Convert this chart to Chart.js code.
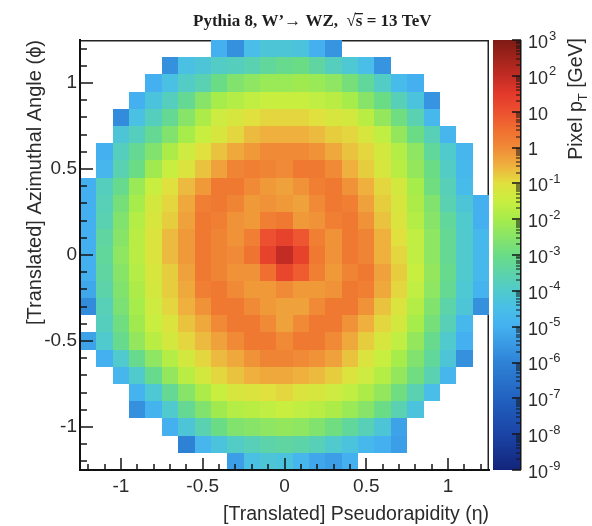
<!DOCTYPE html>
<html>
<head>
<meta charset="utf-8">
<title>Pythia 8, W' to WZ jet image</title>
<script src="https://cdn.jsdelivr.net/npm/chart.js@4.4.1/dist/chart.umd.min.js"></script>
<style>
  html, body { margin: 0; padding: 0; background: #fff; }
  #wrap { position: relative; width: 592px; height: 526px; }
</style>
</head>
<body>
<div id="wrap"><canvas id="jetImage" width="592" height="526"></canvas></div>
<script>
// ── Binning (pixel centres, 0.1 wide) ───────────────────────────────────────
const binWidth   = 0.1;
const etaCenters = [-1.2, -1.1, -1.0, -0.9, -0.8, -0.7, -0.6, -0.5, -0.4, -0.3, -0.2, -0.1, 0,
                    0.1, 0.2, 0.3, 0.4, 0.5, 0.6, 0.7, 0.8, 0.9, 1.0, 1.1, 1.2];
const phiCenters = [1.2, 1.1, 1.0, 0.9, 0.8, 0.7, 0.6, 0.5, 0.4, 0.3, 0.2, 0.1, 0,
                    -0.1, -0.2, -0.3, -0.4, -0.5, -0.6, -0.7, -0.8, -0.9, -1.0, -1.1, -1.2];

// ── Pixel pT, as log10(pT / GeV), one row per phi bin (top row first) ───────
const N = null; // empty pixel
const log10PtRows = [
  [N, N, N, N, N, N, N, N, -5.0, -5.7, -4.5, -4.2, -4.2, -4.3, -5.0, -5.6, N, N, N, N, N, N, N, N, N],
  [N, N, N, N, N, -5.7, -4.4, -4.2, -3.9, -3.8, -3.6, -3.3, -3.1, -3.0, -3.4, -3.8, -4.1, -4.5, -5.6, N, N, N, N, N, N],
  [N, N, N, N, -5.0, -4.4, -3.9, -3.6, -3.0, -2.6, -2.4, -2.2, -2.2, -2.1, -2.2, -2.4, -2.8, -3.3, -3.9, -4.6, -5.0, N, N, N, N],
  [N, N, N, -5.0, -4.3, -3.8, -3.2, -2.5, -2.0, -1.8, -1.6, -1.5, -1.5, -1.5, -1.6, -1.7, -2.0, -2.5, -3.0, -3.7, -4.3, -5.6, N, N, N],
  [N, N, -5.8, -4.4, -3.8, -3.2, -2.5, -1.9, -1.4, -1.2, -1.0, -0.9, -0.9, -0.9, -1.0, -1.2, -1.3, -1.7, -2.3, -2.9, -3.6, -4.7, N, N, N],
  [N, N, -4.2, -3.8, -3.2, -2.6, -2.0, -1.5, -1.2, -0.9, -0.6, -0.5, -0.5, -0.5, -0.6, -0.8, -0.9, -1.2, -1.6, -2.3, -3.0, -3.7, -4.8, N, N],
  [N, -5.0, -3.8, -3.2, -2.6, -1.9, -1.4, -1.0, -0.7, -0.4, -0.2, 0.0, 0.0, 0.0, -0.1, -0.4, -0.7, -0.9, -1.3, -1.8, -2.4, -3.3, -4.0, -4.8, N],
  [N, -4.8, -3.6, -3.0, -2.1, -1.5, -1.1, -0.7, -0.3, 0.1, 0.2, 0.1, 0.0, 0.3, 0.3, 0.0, -0.5, -0.8, -1.2, -1.7, -2.3, -3.0, -3.9, -4.7, N],
  [-5.0, -3.8, -3.1, -2.2, -1.5, -1.0, -0.6, -0.2, 0.3, 0.3, 0.0, -0.2, -0.3, -0.1, 0.2, 0.3, -0.1, -0.5, -0.9, -1.3, -2.0, -2.9, -3.7, -4.6, N],
  [-5.0, -3.7, -2.8, -2.0, -1.3, -0.9, -0.4, 0.2, 0.3, 0.1, -0.2, -0.1, -0.2, -0.3, 0.0, 0.3, 0.2, -0.3, -0.8, -1.2, -1.9, -2.6, -3.6, -4.2, -5.0],
  [-5.0, -3.6, -2.6, -1.8, -1.2, -0.8, -0.3, 0.3, 0.2, -0.1, -0.2, 0.2, 0.3, -0.2, -0.1, 0.2, 0.3, -0.1, -0.7, -1.1, -1.8, -2.5, -3.3, -4.0, -5.0],
  [-5.0, -3.4, -2.5, -1.7, -1.1, -0.6, -0.2, 0.3, 0.1, -0.1, 0.2, 1.0, 1.3, 0.9, 0.2, -0.1, 0.3, 0.1, -0.5, -1.0, -1.6, -2.4, -3.2, -4.0, -4.7],
  [-5.0, -3.3, -2.4, -1.7, -1.1, -0.6, -0.2, 0.3, 0.1, 0.0, 0.4, 1.3, 2.0, 1.3, 0.3, -0.1, 0.3, 0.1, -0.5, -0.9, -1.6, -2.4, -3.2, -4.0, -4.7],
  [-5.0, -3.4, -2.5, -1.8, -1.2, -0.8, -0.3, 0.3, 0.1, -0.1, -0.1, 0.5, 1.2, 0.8, 0.2, -0.2, 0.1, 0.3, -0.3, -0.8, -1.5, -2.3, -3.1, -4.0, -4.7],
  [-5.2, -3.5, -2.6, -1.9, -1.3, -0.8, -0.4, 0.2, 0.3, 0.0, -0.2, -0.2, 0.0, -0.2, -0.2, -0.1, 0.3, 0.2, -0.4, -0.9, -1.6, -2.4, -3.2, -4.1, -4.9],
  [-5.8, -3.7, -2.7, -2.0, -1.4, -0.9, -0.5, -0.1, 0.3, 0.3, 0.0, -0.2, -0.3, -0.3, 0.0, 0.3, 0.3, -0.1, -0.7, -1.1, -1.8, -2.6, -3.5, -4.2, -5.7],
  [N, -3.8, -2.9, -2.1, -1.5, -1.1, -0.7, -0.4, 0.0, 0.3, 0.3, 0.0, -0.3, 0.0, 0.3, 0.3, -0.1, -0.5, -0.9, -1.3, -2.0, -2.8, -3.7, -4.7, N],
  [-5.3, -4.0, -3.1, -2.3, -1.7, -1.3, -0.9, -0.6, -0.3, 0.0, 0.3, 0.3, 0.0, 0.3, 0.3, 0.0, -0.4, -0.8, -1.2, -1.6, -2.3, -3.1, -4.0, -5.0, N],
  [N, -5.0, -4.0, -3.1, -2.4, -1.8, -1.3, -0.9, -0.6, -0.4, -0.1, 0.1, 0.1, 0.0, -0.1, -0.3, -0.7, -1.1, -1.5, -2.0, -2.6, -3.3, -4.2, -5.7, N],
  [N, N, -4.8, -4.0, -3.1, -2.3, -1.7, -1.3, -0.9, -0.7, -0.5, -0.4, -0.4, -0.5, -0.6, -0.8, -1.1, -1.4, -1.8, -2.3, -2.9, -3.6, -4.8, N, N],
  [N, N, N, -4.9, -4.1, -3.2, -2.5, -1.9, -1.5, -1.2, -1.1, -1.0, -0.9, -1.1, -1.2, -1.4, -1.6, -1.9, -2.3, -2.9, -3.6, -4.5, N, N, N],
  [N, N, N, -5.7, -4.9, -4.0, -3.2, -2.6, -2.1, -1.8, -1.7, -1.6, -1.5, -1.6, -1.7, -1.9, -2.2, -2.5, -3.0, -3.6, -4.3, N, N, N, N],
  [N, N, N, N, N, -5.0, -4.2, -3.6, -3.0, -2.6, -2.5, -2.4, -2.3, -2.4, -2.6, -2.9, -3.3, -3.7, -4.2, -5.3, N, N, N, N, N],
  [N, N, N, N, N, N, -6.0, -4.8, -4.3, -3.9, -3.7, -3.5, -3.4, -3.5, -3.7, -4.0, -4.3, -4.7, -5.0, -5.4, N, N, N, N, N],
  [N, N, N, N, N, N, N, N, N, -5.4, -4.4, -4.2, -4.3, -4.8, -5.2, -5.4, -5.0, N, N, N, N, N, N, N, N],
];

// ── Axes ────────────────────────────────────────────────────────────────────
const xTickValues = [-1, -0.5, 0, 0.5, 1];
const yTickValues = [-1, -0.5, 0, 0.5, 1];
const xAxisTitle  = '[Translated] Pseudorapidity (\u03B7)';
const yAxisTitle  = '[Translated] Azimuthal Angle (\u03D5)';

// ── Colour bar (log10 pT from 1e-9 to 1e3) ──────────────────────────────────
const cbTickValues = [1e3, 1e2, 1e1, 1, 1e-1, 1e-2, 1e-3, 1e-4, 1e-5, 1e-6, 1e-7, 1e-8, 1e-9];
const cbLabelBase  = ['10', '10', '10', '1', '10', '10', '10', '10', '10', '10', '10', '10', '10'];
const cbLabelExp   = ['3', '2', '', '', '-1', '-2', '-3', '-4', '-5', '-6', '-7', '-8', '-9'];
const cbStopExp    = [-9, -8, -7, -6, -5, -4.5, -4, -3, -2, -1.5, -1, -0.5, 0, 0.5, 1, 1.5, 2, 3];
const cbStopColors = ['#13247a', '#1a44a6', '#2262c0', '#2e82d6', '#44b0f0', '#48bee8', '#50cacc',
                      '#6adc86', '#a6ec4a', '#c8ee40', '#e0e03e', '#efb03e', '#f08a36', '#f06e30',
                      '#ec5030', '#e3392a', '#c22c24', '#7e1a14'];

const SANS  = '"Liberation Sans", Arial, Helvetica, sans-serif';
const SERIF = '"Liberation Serif", "Times New Roman", serif';
const TXT   = '#2b2b2b';
const INK   = '#151515';

// ── Helpers ─────────────────────────────────────────────────────────────────
function hexToRgb(h) {
  return [parseInt(h.slice(1, 3), 16), parseInt(h.slice(3, 5), 16), parseInt(h.slice(5, 7), 16)];
}
const cbStopRgb = cbStopColors.map(hexToRgb);

function colorFor(lv) {
  if (lv <= cbStopExp[0]) return cbStopColors[0];
  for (let i = 1; i < cbStopExp.length; i++) {
    if (lv <= cbStopExp[i]) {
      const f = (lv - cbStopExp[i - 1]) / (cbStopExp[i] - cbStopExp[i - 1]);
      const a = cbStopRgb[i - 1], b = cbStopRgb[i];
      const c = a.map((v, k) => Math.round(v + (b[k] - v) * f));
      return `rgb(${c[0]},${c[1]},${c[2]})`;
    }
  }
  return cbStopColors[cbStopColors.length - 1];
}

// flat list of filled pixels for the scatter dataset
const cells = [];
log10PtRows.forEach((row, r) => {
  row.forEach((lv, c) => {
    if (lv !== null) cells.push({ x: etaCenters[c], y: phiCenters[r], v: lv });
  });
});

// ── Plugins ─────────────────────────────────────────────────────────────────
// thin frame on top / right, drawn under the pixels (like ROOT)
const framePlugin = {
  id: 'frame',
  beforeDatasetsDraw(chart) {
    const { ctx, chartArea: a } = chart;
    ctx.save();
    ctx.fillStyle = '#222';
    ctx.fillRect(a.left, a.top, a.right - a.left, 1.5);
    ctx.fillRect(a.right - 1.5, a.top, 1.5, a.bottom - a.top);
    ctx.restore();
  },
};

const heatmapPlugin = {
  id: 'heatmapCells',
  beforeDatasetsDraw(chart) {
    const { ctx, scales: { x, y } } = chart;
    const half = binWidth / 2;
    ctx.save();
    chart.data.datasets[0].data.forEach(p => {
      const l = Math.round(x.getPixelForValue(p.x - half));
      const r = Math.round(x.getPixelForValue(p.x + half));
      const t = Math.round(y.getPixelForValue(p.y + half));
      const b = Math.round(y.getPixelForValue(p.y - half));
      ctx.fillStyle = colorFor(p.v);
      ctx.fillRect(l, t, r - l, b - t);
    });
    ctx.restore();
  },
};

// ROOT style tick marks pointing into the frame, plus colour bar
const overlayPlugin = {
  id: 'overlay',
  afterDraw(chart) {
    const { ctx, chartArea: a, scales: { x, y, pt } } = chart;
    ctx.save();

    // main axes ticks (minor every 0.1 = pixel centres)
    ctx.fillStyle = INK;
    etaCenters.forEach(v => {
      const px = Math.round(x.getPixelForValue(v));
      const len = xTickValues.includes(v) ? 12 : 6;
      ctx.fillRect(px - 0.75, a.bottom - len, 1.5, len);
    });
    phiCenters.forEach(v => {
      const py = Math.round(y.getPixelForValue(v));
      const len = yTickValues.includes(v) ? 13 : 7;
      ctx.fillRect(a.left, py - 0.75, len, 1.5);
    });

    // colour bar
    const x0 = pt.left + 4, x1 = pt.left + 32;
    const top = pt.getPixelForValue(1e3), bot = pt.getPixelForValue(1e-9);
    const g = ctx.createLinearGradient(0, bot, 0, top);
    cbStopExp.forEach((e, i) => {
      const py = pt.getPixelForValue(Math.pow(10, e));
      g.addColorStop((bot - py) / (bot - top), cbStopColors[i]);
    });
    ctx.fillStyle = g;
    ctx.fillRect(x0, top, x1 - x0, bot - top);

    // colour bar axis line + log ticks on its right edge
    ctx.fillStyle = INK;
    ctx.fillRect(x1 - 1, top, 1.5, bot - top);
    cbTickValues.forEach(val => {
      const py = Math.round(pt.getPixelForValue(val));
      ctx.fillRect(x1 - 9, py - 0.75, 9, 1.5);
      if (val > 1e-9) {
        for (let k = 2; k <= 9; k++) {
          const pm = Math.round(pt.getPixelForValue(val / 10 * k));
          ctx.fillRect(x1 - 5, pm - 0.5, 5, 1);
        }
      }
    });

    // colour bar labels 10^n
    ctx.fillStyle = TXT;
    ctx.textBaseline = 'middle';
    ctx.textAlign = 'left';
    cbTickValues.forEach((val, i) => {
      const py = pt.getPixelForValue(val) + 3;
      ctx.font = `18px ${SANS}`;
      ctx.fillText(cbLabelBase[i], x1 + 7, py);
      const w = ctx.measureText(cbLabelBase[i]).width;
      if (cbLabelExp[i]) {
        ctx.font = `13px ${SANS}`;
        ctx.fillText(cbLabelExp[i], x1 + 7 + w + 1, py - 7);
      }
    });

    // rotated title "Pixel p_T [GeV]", right aligned to the top
    const big = `19.5px ${SANS}`, small = `13px ${SANS}`;
    const parts = [['Pixel p', big, 0], ['T', small, 6], [' [GeV]', big, 0]];
    let total = 0;
    parts.forEach(([t, f]) => { ctx.font = f; total += ctx.measureText(t).width; });
    ctx.translate(577, top - 2 + total);
    ctx.rotate(-Math.PI / 2);
    let cx = 0;
    parts.forEach(([t, f, dy]) => {
      ctx.font = f;
      ctx.fillText(t, cx, dy);
      cx += ctx.measureText(t).width;
    });
    ctx.restore();
  },
};

const titlePlugin = {
  id: 'rootTitle',
  afterDraw(chart) {
    const { ctx } = chart;
    ctx.save();
    ctx.fillStyle = '#1e1e1e';
    ctx.textBaseline = 'alphabetic';
    ctx.textAlign = 'left';
    ctx.font = `bold 17px ${SERIF}`;
    const base = 26;
    let cx = 193;
    const put = t => { ctx.fillText(t, cx, base); cx += ctx.measureText(t).width; };
    put('Pythia 8, W\u2019');
    put('\u2192');
    put(' WZ,  ');
    put('\u221A');
    const sStart = cx;
    put('s');
    ctx.fillRect(sStart - 1, base - 13, cx - sStart + 1.5, 1.3);
    put(' = 13 TeV');
    ctx.restore();
  },
};

// ── Chart ───────────────────────────────────────────────────────────────────
const tickFont = { family: SANS, size: 19 };

new Chart(document.getElementById('jetImage'), {
  type: 'scatter',
  data: {
    datasets: [{
      label: 'Pixel pT',
      data: cells,
      pointRadius: 0,
      pointHoverRadius: 0,
    }],
  },
  options: {
    responsive: false,
    animation: false,
    events: [],
    layout: { padding: { top: 40, left: 0, right: 0, bottom: 0 } },
    plugins: {
      legend: { display: false },
      tooltip: { enabled: false },
      title: { display: false },
    },
    scales: {
      x: {
        type: 'linear',
        position: 'bottom',
        min: -1.25,
        max: 1.25,
        grid: { display: false, drawTicks: false },
        border: { display: true, color: '#111', width: 2, z: 1 },
        ticks: {
          padding: 5,
          color: TXT,
          font: tickFont,
          maxRotation: 0,
          autoSkip: false,
          callback: v => String(v),
        },
        afterBuildTicks: s => { s.ticks = xTickValues.map(v => ({ value: v })); },
        afterFit: s => { s.height = 56; },
        title: {
          display: true,
          text: xAxisTitle,
          align: 'end',
          color: TXT,
          font: { family: SANS, size: 19.5 },
          padding: { top: 0, bottom: 0 },
        },
      },
      y: {
        type: 'linear',
        position: 'left',
        min: -1.25,
        max: 1.25,
        grid: { display: false, drawTicks: false },
        border: { display: true, color: '#111', width: 2, z: 1 },
        ticks: {
          padding: 3,
          color: TXT,
          font: tickFont,
          autoSkip: false,
          callback: v => String(v),
        },
        afterBuildTicks: s => { s.ticks = yTickValues.map(v => ({ value: v })); },
        afterFit: s => { s.width = 80; },
        title: {
          display: true,
          text: yAxisTitle,
          align: 'end',
          color: TXT,
          font: { family: SANS, size: 20 },
          padding: { top: 23, bottom: 0 },
        },
      },
      pt: {
        type: 'logarithmic',
        position: 'right',
        min: 1e-9,
        max: 1e3,
        grid: { display: false, drawTicks: false },
        border: { display: false },
        ticks: { display: false },
        afterFit: s => { s.width = 103; },
      },
    },
  },
  plugins: [framePlugin, heatmapPlugin, overlayPlugin, titlePlugin],
});
</script>
</body>
</html>
